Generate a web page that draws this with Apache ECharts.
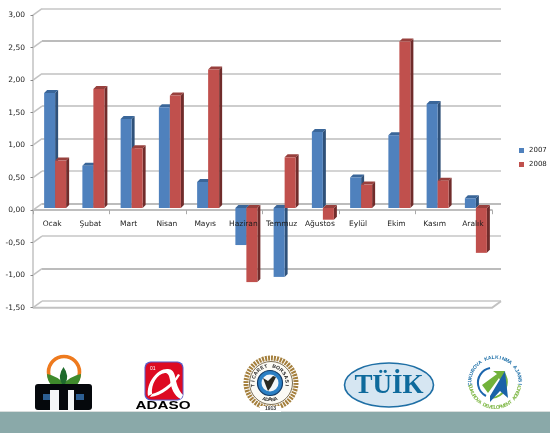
<!DOCTYPE html>
<html><head><meta charset="utf-8">
<style>html,body{margin:0;padding:0;background:#fff}#c{width:550px;height:433px}</style>
<script src="https://cdn.jsdelivr.net/npm/echarts@6/dist/echarts.min.js"></script>
</head><body><div id="c"></div>
<script>
const categories = ['Ocak','Şubat','Mart','Nisan','Mayıs','Haziran','Temmuz','Ağustos','Eylül','Ekim','Kasım','Aralık'];
const values2007 = [1.77,0.65,1.37,1.55,0.40,-0.57,-1.06,1.17,0.47,1.12,1.60,0.15];
const values2008 = [0.73,1.83,0.92,1.73,2.13,-1.14,0.78,-0.18,0.36,2.56,0.42,-0.69];
const wallTicks = [3,2.5,2,1.5,1,0.5,0,-0.5,-1,-1.5];
const yMin = -1.5, yMax = 3, yStep = 0.5;

const chart = echarts.init(document.getElementById('c'), null, {renderer:'canvas'});
const GW = 459, GH = 292.5, GRID = '#c2c2c2', FONT = 'DejaVu Sans', TXT = '#1c1c1c';
const DX = 9, DY = -6.5, BW = 11 / 38.25, D = 3;
const ZH = GH * yMax / (yMax - yMin);

function bar3d(face, top, side, sign) {
  return function (params, api) {
    const i = api.value(0), v = api.value(1);
    const a = api.coord([i, 0]), b = api.coord([i, v]);
    const w = api.size([1, 0])[0] * BW;
    const x0 = a[0] + (sign < 0 ? -w : 0), x1 = x0 + w;
    const yT = Math.min(a[1], b[1]), yB = Math.max(a[1], b[1]);
    return {type:'group', children:[
      {type:'polygon', shape:{points:[[x1,yT],[x1+D,yT-D],[x1+D,yB-D],[x1,yB]]}, style:{fill:side}},
      {type:'polygon', shape:{points:[[x0,yT],[x0+D,yT-D],[x1+D,yT-D],[x1,yT]]}, style:{fill:top}},
      {type:'rect', shape:{x:x0,y:yT,width:w,height:yB-yT}, style:{fill:face}}
    ]};
  };
}
function wall(params, api) {
  const v = api.value(0), s = params.coordSys, y = api.coord([0, v])[1];
  return {type:'line', shape:{x1:s.x,y1:y,x2:s.x+DX,y2:y+DY}, style:{stroke:GRID,lineWidth:1.5}};
}
function floor(params, api) {
  const s = params.coordSys, y = api.coord([0, api.value(0)])[1], r = s.x + s.width;
  return {type:'polyline', shape:{points:[[s.x,y],[r,y],[r+DX,y+DY]]}, style:{stroke:GRID,lineWidth:2,fill:null}};
}

/* ---- decorative logos ---- */
function arcText(str, cx, cy, r, startDeg, endDeg, font, color) {
  const out = [], n = str.length;
  for (let k = 0; k < n; k++) {
    const d = startDeg + (endDeg - startDeg) * (k + 0.5) / n, t = d * Math.PI / 180;
    const up = endDeg > startDeg;
    out.push({type:'text', x:cx + r*Math.sin(t), y:cy - r*Math.cos(t),
      rotation: up ? -t : -t + Math.PI,
      style:{text:str[k], font, fill:color, align:'center', verticalAlign:'middle'}});
  }
  return out;
}
const P = (d, o) => ({type:'path', shape:{pathData:d}, style:o});
const R = (x,y,w,h,fill,r) => ({type:'rect', shape:{x,y,width:w,height:h,r:r||0}, style:{fill}});
const C = (cx,cy,r,o) => ({type:'circle', shape:{cx,cy,r}, style:o});

const logos = [
  /* band */
  R(0,411,550,1.5,'#d9dedd'), R(0,412,550,21,'#8aa9a9'),
  /* cotton exchange */
  C(64,372,15.5,{fill:'#fff',stroke:'#ee7a1e',lineWidth:3.6}),
  P('M47 374 A 17 17 0 0 0 81 374 L 77 375 Q 71 377 65 382 L 63 382 Q 57 377 51 375 Z',{fill:'#3f8a2c'}),
  P('M63.5 367 Q 70 376 65 384 L 62 384 Q 57 376 63.5 367 Z',{fill:'#1f6b2d'}),
  R(35,384,57,26,'#05080c',3),
  R(50,390,9,20,'#f4f6f7'), R(68,390,6,20,'#f4f6f7'),
  R(43,394,7,6,'#2d5f93'), R(76,394,8,6,'#2d5f93'),
  /* ADASO */
  R(144.5,361.5,39,39,'#5a5ac8',6), R(145.5,362.5,37,37,'#dd0a22',6),
  P('M148 396 C 146 382 158 368 168 369 C 172 369 174 372 175 376 C 176 382 178 390 183 395 L 181 399 C 174 396 171 388 170 380 C 169 375 168 373 165 373 C 157 374 151 384 152 394 Z',{fill:'#fff'}),
  P('M152 394 C 160 392 172 384 178 374 L 180 375 C 174 386 162 396 150 397 Z',{fill:'#fff'}),
  {type:'text',x:150,y:366.5,style:{text:'01',font:'5px "Liberation Sans"',fill:'#fff'}},
  {type:'text',x:163,y:406,scaleX:1.45,style:{text:'ADASO',font:'900 10.5px "Liberation Sans"',fill:'#000',align:'center',verticalAlign:'middle'}},
  /* Ticaret Borsasi */
  C(271,383,25,{fill:'#fff',stroke:'#a5803e',lineWidth:5,lineDash:[2,1]}),
  C(271,383,21.5,{fill:'#fbfaf4',stroke:'#5c4a26',lineWidth:.8}),
  C(270,383,12.5,{fill:'#2a7fc4',stroke:'#123a66',lineWidth:1.2}),
  C(270,383,8.5,{fill:'#f3f6f8'}),
  P('M263 378 L 268 381 L 273 376 L 276 377 L 271 387 L 268 391 L 266 386 Z',{fill:'#2a2a22'}),
  ...arcText('TİCARET BORSASI',270,383,17,-105,105,'bold 5px "Liberation Sans"','#222'),
  ...arcText('ADANA',270,383,17,205,155,'bold 5px "Liberation Sans"','#222'),
  R(260,406,21,6,'#fff'),
  {type:'text',x:270.5,y:408.5,style:{text:'1913',font:'bold 5px "Liberation Sans"',fill:'#333',align:'center',verticalAlign:'middle'}},
  /* TUIK */
  {type:'ellipse',shape:{cx:389,cy:385,rx:44.5,ry:22},style:{fill:'#d6e6f2',stroke:'#1f6fa5',lineWidth:1.6}},
  {type:'text',x:389,y:386,style:{text:'TÜİK',font:'bold 27px "Liberation Serif"',fill:'#0e6a9c',align:'center',verticalAlign:'middle'}},
  /* Cukurova */
  P('M490 368 A 15 15 0 0 0 486 396',{fill:'none',stroke:'#1c66ad',lineWidth:2}),
  P('M504 373 A 16 16 0 0 1 490 398',{fill:'none',stroke:'#7ab53f',lineWidth:2}),
  P('M482 385 L 497 374 L 493 371 L 505 371 L 501 382 L 499 378 L 488 393 Z',{fill:'#72b23a'}),
  P('M505 371 L 508 398 L 500 391 L 490 402 L 490 396 Z',{fill:'#1b62a8'}),
  ...arcText('ÇUKUROVA KALKINMA AJANSI',495,382.5,25,-98,98,'bold 5px "Liberation Sans"','#1c6fa8'),
  ...arcText('ÇUKUROVA DEVELOPMENT AGENCY',495,382.5,25,265,95,'bold 5px "Liberation Sans"','#7ab53f')
];

const yAxisBase = {min:yMin,max:yMax,interval:yStep,type:'value'};
const HIDE = {axisLine:{show:false},axisTick:{show:false},axisLabel:{show:false},splitLine:{show:false}};
const grids = [
  {left:42,top:8.7,width:GW,height:GH},   /* back wall */
  {left:33,top:15.2,width:GW,height:GH},  /* front plane */
  {left:36,top:13,width:GW,height:GH},    /* bar plane */
  {left:33,top:15.2,width:GW,height:ZH},  /* zero axis line, upper half of front plane */
  {left:33,top:15.2,width:GW,height:ZH}   /* category labels above the bars */
];
chart.setOption({
  animation:false,
  backgroundColor:'#fff',
  grid:grids,
  legend:{orient:'vertical',left:519,top:147,padding:0,itemWidth:5,itemHeight:5,itemGap:7,
    data:[{name:'2007',icon:'rect'},{name:'2008',icon:'rect'}],
    textStyle:{fontFamily:FONT,fontSize:7,color:TXT}},
  xAxis:[
    {gridIndex:0,type:'category',data:categories,show:false},
    {gridIndex:1,type:'category',data:categories,show:false},
    {gridIndex:2,type:'category',data:categories,show:false},
    {gridIndex:3,type:'category',data:categories,boundaryGap:true,
      axisLine:{show:true,onZero:false,lineStyle:{color:'#a9a9a9',width:1.5}},
      axisTick:{show:true,length:4,alignWithLabel:false,lineStyle:{color:'#a9a9a9',width:1}},
      axisLabel:{show:false}},
    {gridIndex:4,type:'category',data:categories,z:10,
      axisLine:{onZero:false,show:false},axisTick:{show:false},
      axisLabel:{show:true,interval:0,margin:10,hideOverlap:false,fontFamily:FONT,fontSize:7.5,color:TXT}}
  ],
  yAxis:[
    {...yAxisBase,gridIndex:0,axisLine:{show:false},axisTick:{show:false},axisLabel:{show:false},
      splitLine:{show:true,lineStyle:{width:1.6,
        color:['#c6c6c6','#a6a6a6','#c6c6c6','#a6a6a6','#c6c6c6','#bdbdbd','#bdbdbd','#c0c0c0','#a6a6a6','#c6c6c6']}}},
    {...yAxisBase,gridIndex:1,splitLine:{show:false},
      axisLine:{show:true,lineStyle:{color:GRID,width:1.5}},
      axisTick:{show:true,length:2.5,lineStyle:{color:'#888',width:1}},
      axisLabel:{show:true,margin:8,fontFamily:FONT,fontSize:7.5,color:TXT,formatter:v=>v.toFixed(2).replace('.',',')}},
    {...yAxisBase,gridIndex:2,show:false,splitLine:{show:false}},
    {type:'value',min:0,max:yMax,interval:yStep,...HIDE,gridIndex:3},
    {type:'value',min:0,max:yMax,interval:yStep,...HIDE,gridIndex:4}
  ],
  series:[
    {type:'custom',name:'logos',coordinateSystem:'none',z:0,silent:true,data:[[0]],
      renderItem:()=>({type:'group',children:logos})},
    {type:'custom',name:'wall',xAxisIndex:1,yAxisIndex:1,z:1,silent:true,clip:false,renderItem:wall,data:wallTicks.map(v=>[v]),encode:{y:0}},
    {type:'custom',name:'floor',xAxisIndex:1,yAxisIndex:1,z:1,silent:true,clip:false,renderItem:floor,data:[[yMin]],encode:{y:0}},
    {type:'custom',name:'2007',xAxisIndex:2,yAxisIndex:2,z:3,clip:false,itemStyle:{color:'#4f81bd'},
      renderItem:bar3d('#4f81bd','#3a6699','#2f5179',-1),encode:{x:0,y:1},
      data:values2007.map((v,i)=>[i,v])},
    {type:'custom',name:'2008',xAxisIndex:2,yAxisIndex:2,z:4,clip:false,itemStyle:{color:'#c0504d'},
      renderItem:bar3d('#c0504d','#98403d','#702c2b',1),encode:{x:0,y:1},
      data:values2008.map((v,i)=>[i,v])}
  ]
});
</script></body></html>
